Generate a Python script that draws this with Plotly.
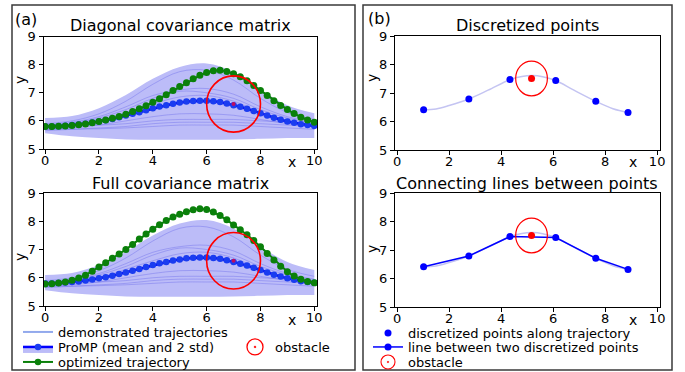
import plotly.graph_objects as go

FONT = "DejaVu Sans"
W, H = 685, 372

# ---------------- panel (a) data ----------------
x_traj = [0, 0.25, 0.5, 0.75, 1, 1.25, 1.5, 1.75, 2, 2.25, 2.5, 2.75, 3, 3.25, 3.5, 3.75,
          4, 4.25, 4.5, 4.75, 5, 5.25, 5.5, 5.75, 6, 6.25, 6.5, 6.75, 7, 7.25, 7.5, 7.75,
          8, 8.25, 8.5, 8.75, 9, 9.25, 9.5, 9.75, 10]
promp_mean = [5.80, 5.80, 5.81, 5.83, 5.85, 5.87, 5.90, 5.94, 5.98, 6.02, 6.07, 6.13, 6.19, 6.25,
              6.31, 6.38, 6.45, 6.51, 6.56, 6.61, 6.65, 6.69, 6.71, 6.72, 6.72, 6.70, 6.67, 6.62,
              6.56, 6.50, 6.43, 6.35, 6.27, 6.19, 6.11, 6.04, 5.98, 5.93, 5.88, 5.85, 5.82]
opt_diag = [5.80, 5.80, 5.81, 5.82, 5.84, 5.86, 5.89, 5.93, 5.98, 6.03, 6.09, 6.16, 6.24, 6.33,
            6.43, 6.54, 6.66, 6.79, 6.93, 7.08, 7.22, 7.36, 7.50, 7.62, 7.72, 7.78, 7.80, 7.76,
            7.68, 7.57, 7.43, 7.26, 7.08, 6.90, 6.72, 6.55, 6.40, 6.26, 6.13, 6.03, 5.95]
opt_full = [5.78, 5.79, 5.81, 5.85, 5.91, 5.99, 6.09, 6.23, 6.38, 6.53, 6.69, 6.84, 7.00, 7.18,
            7.37, 7.55, 7.72, 7.88, 8.03, 8.15, 8.25, 8.34, 8.41, 8.44, 8.42, 8.33, 8.20, 8.05,
            7.87, 7.70, 7.52, 7.32, 7.10, 6.86, 6.63, 6.41, 6.21, 6.06, 5.95, 5.87, 5.82]

x_demo = [0, 1, 2, 3, 4, 5, 6, 7, 8, 9, 10]
demo_1 = [5.90, 6.00, 6.25, 6.70, 7.30, 7.75, 7.80, 7.45, 6.80, 6.30, 6.05]
demo_2 = [5.85, 5.95, 6.15, 6.50, 6.90, 7.10, 7.15, 6.95, 6.50, 6.15, 5.95]
demo_3 = [5.80, 5.90, 6.10, 6.40, 6.80, 7.05, 7.00, 6.80, 6.40, 6.10, 5.90]
demo_4 = [5.75, 5.85, 6.00, 6.30, 6.60, 6.85, 6.90, 6.70, 6.30, 6.00, 5.85]
demo_5 = [5.70, 5.80, 5.95, 6.20, 6.45, 6.60, 6.65, 6.50, 6.20, 5.95, 5.80]
demo_6 = [5.70, 5.75, 5.85, 6.00, 6.15, 6.25, 6.25, 6.20, 6.05, 5.90, 5.80]
demo_7 = [5.85, 5.85, 5.85, 5.90, 6.00, 6.05, 6.05, 6.05, 6.00, 5.95, 5.90]
demo_8 = [5.65, 5.70, 5.75, 5.80, 5.90, 5.95, 5.95, 5.95, 5.90, 5.85, 5.80]
demo_9 = [5.70, 5.70, 5.72, 5.75, 5.80, 5.85, 5.85, 5.85, 5.80, 5.75, 5.70]
demos = [demo_1, demo_2, demo_3, demo_4, demo_5, demo_6, demo_7, demo_8, demo_9]

band_upper = [6.10, 6.17, 6.45, 6.92, 7.50, 7.92, 8.04, 7.74, 7.10, 6.56, 6.27]
band_lower = [5.56, 5.45, 5.39, 5.34, 5.33, 5.33, 5.33, 5.34, 5.36, 5.39, 5.39]

obstacle_a_x, obstacle_a_y, obstacle_a_r = 7.0, 6.6, 1.0

# ---------------- panel (b) data ----------------
x_disc = [1.02, 2.76, 4.34, 6.10, 7.64, 8.88]
y_disc = [6.41, 6.79, 7.47, 7.44, 6.71, 6.32]
x_smooth = [1.02, 1.5, 2.0, 2.76, 3.5, 4.34, 4.8, 5.2, 5.6, 6.10, 6.8, 7.64, 8.3, 8.88]
y_smooth = [6.41, 6.44, 6.56, 6.79, 7.10, 7.47, 7.58, 7.61, 7.57, 7.44, 7.10, 6.71, 6.45, 6.32]
obstacle_b_x, obstacle_b_y, obstacle_b_r = 5.17, 7.51, 0.61

x_ticks = [0, 2, 4, 6, 8, 10]
y_ticks = [5, 6, 7, 8, 9]

# ---------------- styles ----------------
BAND = "#bcbcf8"
DEMO = "rgba(100,100,235,0.38)"
DEMO_LEG = "rgba(110,140,230,0.75)"
BLUE = "#0000ff"
BLUE_DOT = "#1a3cf0"
GREEN = "#0a800a"
RED = "#ff0000"
LAV = "#c4c4f2"


def px(v):
    return v / W


def py(v):
    return 1 - v / H


fig = go.Figure()


def add_panel_a(xa, ya, opt):
    fig.add_trace(go.Scatter(x=x_demo, y=band_lower, mode="lines", line=dict(width=0, shape="spline"),
                             showlegend=False, hoverinfo="skip", xaxis=xa, yaxis=ya))
    fig.add_trace(go.Scatter(x=x_demo, y=band_upper, mode="lines", line=dict(width=0, shape="spline"),
                             fill="tonexty", fillcolor=BAND, showlegend=False, hoverinfo="skip",
                             xaxis=xa, yaxis=ya))
    for d in demos:
        fig.add_trace(go.Scatter(x=x_demo, y=d, mode="lines", line=dict(color=DEMO, width=1, shape="spline"),
                                 showlegend=False, xaxis=xa, yaxis=ya))
    fig.add_trace(go.Scatter(x=x_traj, y=promp_mean, mode="lines+markers",
                             line=dict(color=BLUE, width=2.5),
                             marker=dict(color=BLUE_DOT, size=6.5), showlegend=False, xaxis=xa, yaxis=ya))
    fig.add_trace(go.Scatter(x=x_traj, y=opt, mode="lines+markers",
                             line=dict(color=GREEN, width=2),
                             marker=dict(color=GREEN, size=7), showlegend=False, xaxis=xa, yaxis=ya))
    fig.add_trace(go.Scatter(x=[obstacle_a_x], y=[obstacle_a_y], mode="markers",
                             marker=dict(color="rgba(230,0,60,0.8)", size=4), showlegend=False,
                             xaxis=xa, yaxis=ya))
    fig.add_shape(type="circle", xref=xa, yref=ya,
                  x0=obstacle_a_x - obstacle_a_r, x1=obstacle_a_x + obstacle_a_r,
                  y0=obstacle_a_y - obstacle_a_r, y1=obstacle_a_y + obstacle_a_r,
                  line=dict(color=RED, width=1.6))


add_panel_a("x", "y", opt_diag)
add_panel_a("x2", "y2", opt_full)


def add_panel_b(xa, ya, with_lines):
    fig.add_trace(go.Scatter(x=x_smooth, y=y_smooth, mode="lines",
                             line=dict(color=LAV, width=1.5, shape="spline"),
                             showlegend=False, xaxis=xa, yaxis=ya))
    if with_lines:
        fig.add_trace(go.Scatter(x=x_disc, y=y_disc, mode="lines+markers",
                                 line=dict(color=BLUE, width=1.5),
                                 marker=dict(color=BLUE, size=7), showlegend=False, xaxis=xa, yaxis=ya))
    else:
        fig.add_trace(go.Scatter(x=x_disc, y=y_disc, mode="markers",
                                 marker=dict(color=BLUE, size=7), showlegend=False, xaxis=xa, yaxis=ya))
    fig.add_trace(go.Scatter(x=[obstacle_b_x], y=[obstacle_b_y], mode="markers",
                             marker=dict(color=RED, size=7), showlegend=False, xaxis=xa, yaxis=ya))
    fig.add_shape(type="circle", xref=xa, yref=ya,
                  x0=obstacle_b_x - obstacle_b_r, x1=obstacle_b_x + obstacle_b_r,
                  y0=obstacle_b_y - obstacle_b_r, y1=obstacle_b_y + obstacle_b_r,
                  line=dict(color=RED, width=1.2))


add_panel_b("x3", "y3", False)
add_panel_b("x4", "y4", True)

# ---------------- legend entries (one per legend box) ----------------
leg_font = dict(family=FONT, size=13, color="black")
fig.add_trace(go.Scatter(x=[None], y=[None], mode="lines", line=dict(color=DEMO_LEG, width=2),
                         name="demonstrated trajectories", legend="legend"))
fig.add_trace(go.Scatter(x=[None], y=[None], mode="lines+markers", fill="toself", fillcolor=BAND,
                         line=dict(color=BLUE, width=2.5), marker=dict(color=BLUE_DOT, size=6.5),
                         name="ProMP (mean and 2 std)", legend="legend2"))
fig.add_trace(go.Scatter(x=[None], y=[None], mode="lines+markers", line=dict(color=GREEN, width=2),
                         marker=dict(color=GREEN, size=6.5),
                         name="optimized trajectory", legend="legend3"))
fig.add_trace(go.Scatter(x=[None], y=[None], mode="markers",
                         marker=dict(symbol="circle-open-dot", color=RED, size=16, line=dict(width=1.3)),
                         name="obstacle", legend="legend4"))
fig.add_trace(go.Scatter(x=[None], y=[None], mode="markers", marker=dict(color=BLUE, size=7),
                         name="discretized points along trajectory", legend="legend5"))
fig.add_trace(go.Scatter(x=[None], y=[None], mode="lines+markers", line=dict(color=BLUE, width=1.5),
                         marker=dict(color=BLUE, size=7),
                         name="line between two discretized points", legend="legend6"))
fig.add_trace(go.Scatter(x=[None], y=[None], mode="markers",
                         marker=dict(symbol="circle-open-dot", color=RED, size=14, line=dict(width=1.1)),
                         name="obstacle", legend="legend7"))


def leg(xl, yc):
    return dict(x=px(xl), y=py(yc), xanchor="left", yanchor="middle", bgcolor="rgba(0,0,0,0)",
                borderwidth=0, font=leg_font, itemwidth=30, tracegroupgap=0)


# ---------------- axes ----------------
def xax(dom, rng, anchor):
    return dict(domain=[px(dom[0]), px(dom[1])], range=rng, anchor=anchor, tickvals=x_ticks,
                showgrid=False, zeroline=False, showline=True, mirror=True, linecolor="black",
                linewidth=1, ticks="outside", ticklen=4, tickwidth=1, tickcolor="black",
                ticklabelstandoff=-5,
                tickfont=dict(family=FONT, size=13, color="black"), fixedrange=True)


def yax(top, bottom, anchor):
    return dict(domain=[py(bottom), py(top)], range=[5, 9], anchor=anchor, tickvals=y_ticks,
                showgrid=False, zeroline=False, showline=True, mirror=True, linecolor="black",
                linewidth=1, ticks="outside", ticklen=4, tickwidth=1, tickcolor="black",
                tickfont=dict(family=FONT, size=13, color="black"), fixedrange=True)


ann = []


def text(s, x, y, size=13, xanchor="center", angle=0):
    ann.append(dict(text=s, x=px(x), y=py(y), xref="paper", yref="paper", showarrow=False,
                    xanchor=xanchor, yanchor="middle", textangle=angle,
                    font=dict(family=FONT, size=size, color="black")))


text("(a)", 13, 20, 16, "left")
text("(b)", 366, 19, 16, "left")
text("Diagonal covariance matrix", 180, 26, 16)
text("Full covariance matrix", 180, 183, 16)
text("Discretized points", 527, 26, 16)
text("Connecting lines between points", 527, 183, 16)
for (xx, yy) in [(292, 162), (292, 320), (633, 162), (633, 320)]:
    text("x", xx, yy, 14)
for (xx, yy) in [(20, 80), (20, 257), (372, 78), (372, 249)]:
    text("y", xx, yy, 14, angle=-90)

for (x0, x1) in [(12, 355), (363, 672)]:
    fig.add_shape(type="rect", xref="paper", yref="paper", x0=px(x0), x1=px(x1), y0=py(370), y1=py(5),
                  line=dict(color="#3a3a3a", width=1.5), fillcolor="rgba(0,0,0,0)")

fig.update_layout(
    width=W, height=H, margin=dict(l=0, r=0, t=0, b=0, autoexpand=False),
    paper_bgcolor="white", plot_bgcolor="white", showlegend=True,
    font=dict(family=FONT, size=13, color="black"),
    xaxis=xax((43.5, 317), [-0.06, 10.1], "y"),
    yaxis=yax(36.5, 149, "x"),
    xaxis2=xax((43.5, 317), [-0.06, 10.1], "y2"),
    yaxis2=yax(193, 306, "x2"),
    xaxis3=xax((395, 660), [-0.08, 10.11], "y3"),
    yaxis3=yax(36, 150, "x3"),
    xaxis4=xax((395, 660), [-0.08, 10.11], "y4"),
    yaxis4=yax(193, 307, "x4"),
    legend=leg(18, 332),
    legend2=leg(18, 347),
    legend3=leg(18, 362),
    legend4=leg(235, 347),
    legend5=leg(368, 333),
    legend6=leg(368, 347),
    legend7=leg(368, 362),
    annotations=ann,
)

fig.write_html("out.html", config={"displayModeBar": False},
               post_script="document.body.style.margin='0';document.body.style.overflow='hidden';")
